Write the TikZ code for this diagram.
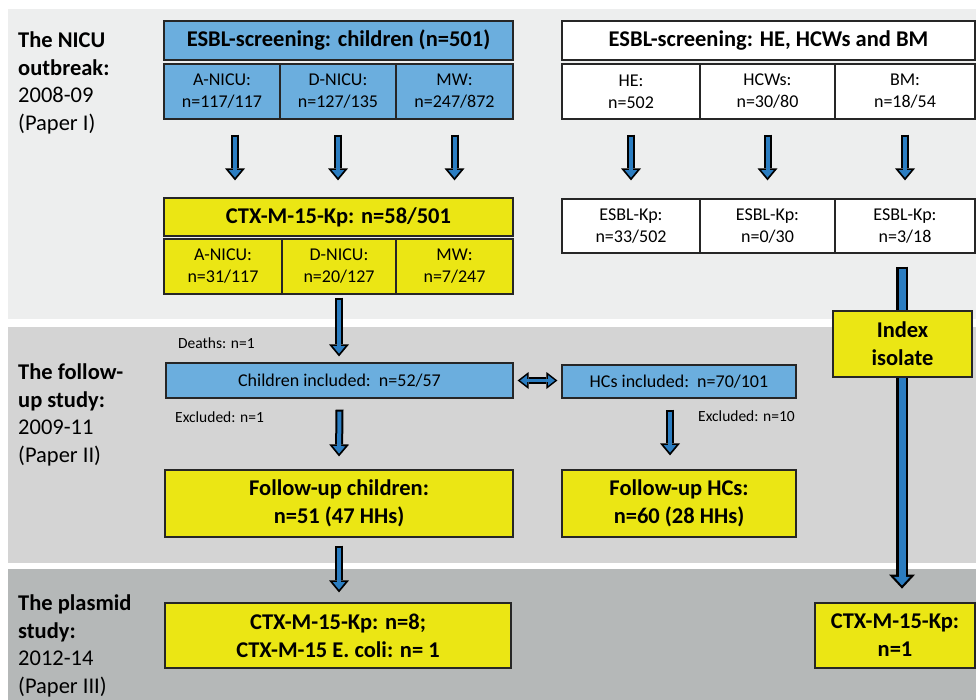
\documentclass[tikz,border=0pt]{standalone}
\usepackage{fontspec}
\setmainfont{Carlito}
\usetikzlibrary{arrows.meta}
\definecolor{panelA}{HTML}{EDEEEE}
\definecolor{panelB}{HTML}{D4D4D4}
\definecolor{panelC}{HTML}{B5B8B8}
\definecolor{boxblue}{HTML}{6BAEDE}
\definecolor{boxyellow}{HTML}{EBE614}
\definecolor{arrowblue}{HTML}{2B7DC1}
\definecolor{boxline}{HTML}{262626}
\newcommand{\headfont}{\bfseries\fontsize{22.5}{28}\selectfont}
\newcommand{\cellfont}{\fontsize{18}{22}\selectfont}
\newcommand{\notefont}{\fontsize{15.5}{18}\selectfont}

\begin{document}
\begin{tikzpicture}[x=1pt,y=-1pt,
  box/.style={draw=boxline, line width=1.2pt, inner sep=0pt, align=center, font=\cellfont},
  bluebox/.style={box, fill=boxblue},
  yellowbox/.style={box, fill=boxyellow},
  whitebox/.style={box, fill=white},
  title/.style={minimum height=39pt, font=\headfont},
  cell/.style={minimum width=#1, minimum height=55pt},
  side/.style={anchor=north west, align=left, inner sep=0pt, font=\fontsize{22.5}{27.5}\selectfont},
  note/.style={anchor=west, inner sep=0pt, font=\notefont},
  blockarrow/.style={draw=black, line width=8pt, -{Triangle[width=20pt,length=12pt,line width=0pt]},
    postaction={draw=arrowblue, line width=4pt, -{Triangle[width=12.3pt,length=7.4pt,line width=0pt]}, shorten <=2pt, shorten >=2.8pt}},
  bigarrow/.style={draw=black, line width=12pt, -{Triangle[width=26pt,length=14pt,line width=0pt]},
    postaction={draw=arrowblue, line width=7pt, -{Triangle[width=16pt,length=8.6pt,line width=0pt]}, shorten <=2.5pt, shorten >=3.2pt}},
  twoarrow/.style={draw=black, line width=7pt, {Triangle[width=17pt,length=11pt,line width=0pt]}-{Triangle[width=17pt,length=11pt,line width=0pt]},
    postaction={draw=arrowblue, line width=3.5pt, {Triangle[width=10.5pt,length=6.8pt,line width=0pt]}-{Triangle[width=10.5pt,length=6.8pt,line width=0pt]}, shorten <=2.6pt, shorten >=2.6pt}}]

% panels
\fill[white] (0,0) rectangle (976,700);
\fill[panelA] (8,9) rectangle (976,319);
\fill[panelB] (8,327) rectangle (976,563);
\fill[panelC] (8,569) rectangle (976,700);

% side labels
\node[side] (lblNicu) at (18,32) {\textbf{The NICU}\\\textbf{outbreak:}\\2008-09\\(Paper I)};
\node[side] (lblFollow) at (18,364) {\textbf{The follow-}\\\textbf{up study:}\\2009-11\\(Paper II)};
\node[side] (lblPlasmid) at (18,595) {\textbf{The plasmid}\\\textbf{study:}\\2012-14\\(Paper III)};

% children
\node[bluebox, title, minimum width=349pt] (chScreen) at (338.5,40.5) {ESBL-screening: children (n=501)};
\node[bluebox, cell=116pt] (chA) at (222,91.5) {A-NICU:\\n=117/117};
\node[bluebox, cell=116pt] (chD) at (338,91.5) {D-NICU:\\n=127/135};
\node[bluebox, cell=117pt] (chM) at (454.5,91.5) {MW:\\n=247/872};
\node[yellowbox, title, minimum height=38pt, minimum width=349pt] (ctx) at (338.5,217) {CTX-M-15-Kp: n=58/501};
\node[yellowbox, cell=118pt] (ctxA) at (223,266.5) {A-NICU:\\n=31/117};
\node[yellowbox, cell=114pt] (ctxD) at (339,266.5) {D-NICU:\\n=20/127};
\node[yellowbox, cell=117pt] (ctxM) at (454.5,266.5) {MW:\\n=7/247};

% HE, HCWs, BM
\node[whitebox, title, minimum width=413pt] (hhScreen) at (768.5,40.5) {ESBL-screening: HE, HCWs and BM};
\node[whitebox, cell=138pt] (he) at (631,91.5) {HE:\\n=502};
\node[whitebox, cell=135pt] (hcw) at (767.5,91.5) {HCWs:\\n=30/80};
\node[whitebox, cell=140pt] (bm) at (905,91.5) {BM:\\n=18/54};
\node[whitebox, cell=138pt, minimum height=54pt] (kpHe) at (631,226) {ESBL-Kp:\\n=33/502};
\node[whitebox, cell=135pt, minimum height=54pt] (kpHcw) at (767.5,226) {ESBL-Kp:\\n=0/30};
\node[whitebox, cell=140pt, minimum height=54pt] (kpBm) at (905,226) {ESBL-Kp:\\n=3/18};

% follow-up
\node[bluebox, minimum width=347pt, minimum height=35pt] (chIncl) at (339.5,380.5) {Children included:\ \ n=52/57};
\node[bluebox, minimum width=234pt, minimum height=33pt] (hcIncl) at (679,381.5) {HCs included:\ \ n=70/101};
\node[yellowbox, font=\headfont, minimum width=348pt, minimum height=67pt] (fuCh) at (339,503.5) {Follow-up children:\\n=51 (47 HHs)};
\node[yellowbox, font=\headfont, minimum width=234pt, minimum height=67pt] (fuHc) at (679,503.5) {Follow-up HCs:\\n=60 (28 HHs)};
\node[note] (deaths) at (178,343) {Deaths: n=1};
\node[note] (exclCh) at (175,417) {Excluded: n=1};
\node[note] (exclHc) at (698,416) {Excluded: n=10};

% plasmid
\node[yellowbox, font=\headfont, minimum width=346pt, minimum height=65pt] (plCh) at (338,635.5) {CTX-M-15-Kp: n=8;\\CTX-M-15 E. coli: n= 1};
\node[yellowbox, font=\headfont, minimum width=160pt, minimum height=65pt] (plIdx) at (895,635.5) {CTX-M-15-Kp:\\n=1};

% arrows
\draw[blockarrow] ([xshift=13pt,yshift=-15pt]chA.south) -- ([xshift=13pt,yshift=17pt]chA.south |- ctx.north);
\draw[blockarrow] ([yshift=-15pt]chD.south) -- ([yshift=17pt]chD.south |- ctx.north);
\draw[blockarrow] ([yshift=-15pt]chM.south) -- ([yshift=17pt]chM.south |- ctx.north);
\draw[blockarrow] ([yshift=-15pt]he.south) -- ([yshift=18pt]kpHe.north);
\draw[blockarrow] ([yshift=-15pt]hcw.south) -- ([yshift=18pt]kpHcw.north);
\draw[blockarrow] ([yshift=-15pt]bm.south) -- ([yshift=18pt]kpBm.north);
\draw[blockarrow] ([yshift=-3pt]ctxD.south) -- ([yshift=6pt]ctxD.south |- chIncl.north);
\draw[blockarrow] ([yshift=-11pt]chIncl.south) -- ([yshift=13pt]fuCh.north);
\draw[blockarrow] ([xshift=-9pt,yshift=-11pt]hcIncl.south) -- ([xshift=-9pt,yshift=14pt]fuHc.north);
\draw[blockarrow] ([yshift=-8pt]fuCh.south) -- ([yshift=10pt]fuCh.south |- plCh.north);
\draw[twoarrow] ([xshift=4pt]chIncl.east) -- ([xshift=-4pt]chIncl.east -| hcIncl.west);
\draw[bigarrow] ([xshift=-3pt,yshift=-13pt]kpBm.south) -- ++(0,322);

% index isolate sits on the long arrow
\node[yellowbox, font=\headfont, minimum width=139pt, minimum height=66pt] (index) at (902.5,344) {Index\\isolate};
\end{tikzpicture}
\end{document}
